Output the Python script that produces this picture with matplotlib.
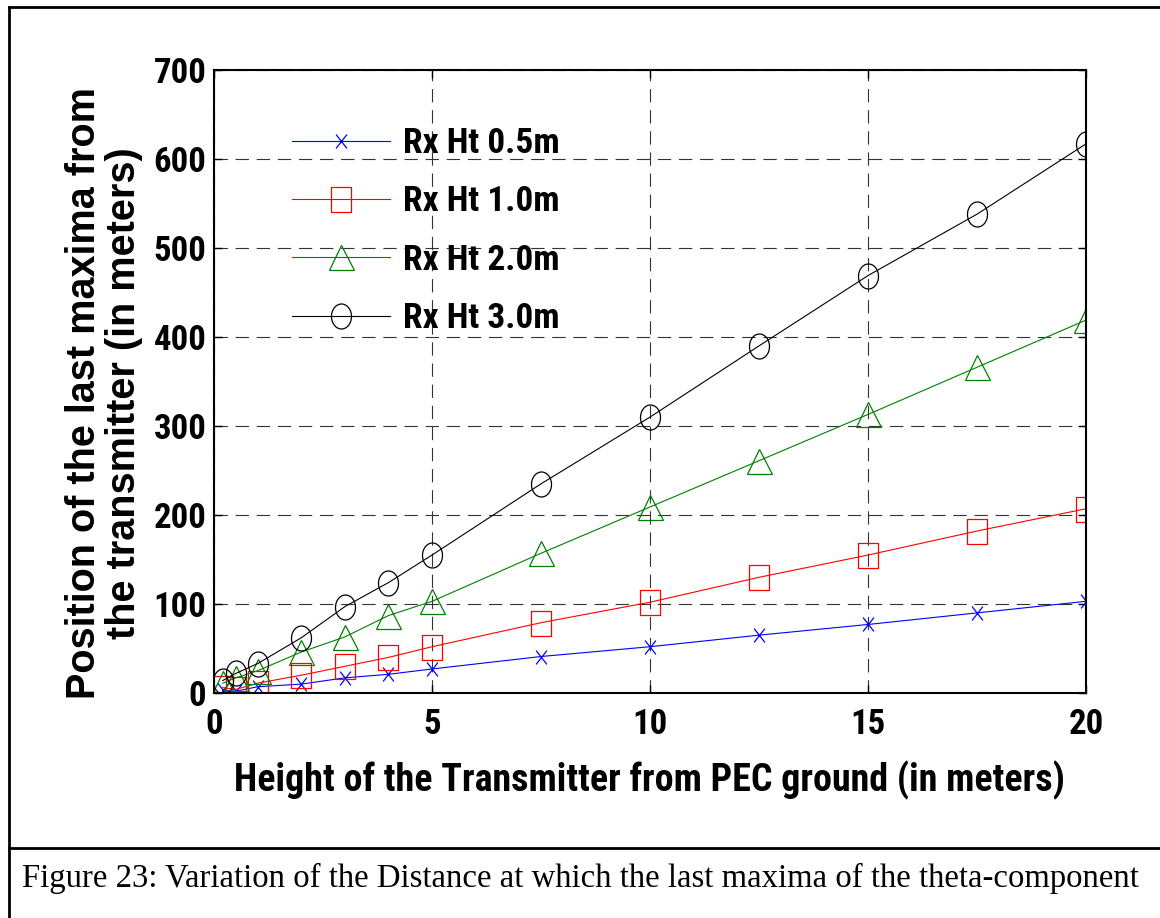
import matplotlib
matplotlib.use("Agg")
import matplotlib.pyplot as plt
from matplotlib import font_manager
from matplotlib.path import Path
from matplotlib.lines import Line2D
import numpy as np

# ---------------- data ----------------
tx_height = [0.2, 0.5, 1, 2, 3, 4, 5, 7.5, 10, 12.5, 15, 17.5, 20]
rx05 = [3, 2, 7, 10, 17, 21, 27, 41, 52, 65, 77, 90, 103]
rx10 = [6, 4, 11, 20, 30, 40, 52, 79, 102, 130, 155, 182, 207]
rx20 = [11, 17, 25, 46, 63, 87, 103, 157, 209, 261, 313, 366, 419]
rx30 = [14, 22, 33, 62, 97, 124, 155, 235, 310, 390, 469, 538, 617]
labels = ["Rx Ht 0.5m", "Rx Ht 1.0m", "Rx Ht 2.0m", "Rx Ht 3.0m"]
xticks = [0, 5, 10, 15, 20]
yticks = [0, 100, 200, 300, 400, 500, 600, 700]
xlabel = "Height of the Transmitter from PEC ground (in meters)"
ylabel = "Position of the last maxima from\nthe transmitter (in meters)"
caption = "Figure 23: Variation of the Distance at which the last maxima of the theta-component"

# ---------------- fonts ----------------
avail = {f.name for f in font_manager.fontManager.ttflist}
sans = [f for f in ["Roboto Condensed", "Liberation Sans", "DejaVu Sans"] if f in avail]
wide = [f for f in ["Liberation Sans", "DejaVu Sans"] if f in avail]
serif = [f for f in ["Liberation Serif", "DejaVu Serif"] if f in avail]

# ---------------- markers ----------------
t = np.linspace(0, 2 * np.pi, 60)
ellipse = Path(np.column_stack([0.8 * np.cos(t), np.sin(t)]), closed=True)
rect = Path([(-0.8, -1), (0.8, -1), (0.8, 1), (-0.8, 1), (-0.8, -1)], closed=True)
xmark = Path([(-0.78, -1), (0.78, 1), (-0.78, 1), (0.78, -1)],
             [Path.MOVETO, Path.LINETO, Path.MOVETO, Path.LINETO])

W, H = 1160, 918
fig = plt.figure(figsize=(W / 100, H / 100), dpi=100)
ax = fig.add_axes([214 / W, 1 - 693 / H, (1086 - 214) / W, (693 - 70) / H])

series = [
    (rx05, "#0000ff", xmark, 10),
    (rx10, "#ff0000", rect, 18),
    (rx20, "#008000", "^", 18),
    (rx30, "#000000", ellipse, 18),
]
for (vals, col, mk, ms), lab in zip(series, labels):
    ax.plot(tx_height, vals, color=col, lw=0.8, marker=mk, ms=ms,
            mfc="none", mec=col, mew=0.9, label=lab)

ax.set_xlim(0, 20)
ax.set_ylim(0, 700)
ax.set_xticks(xticks)
ax.set_yticks(yticks)
ax.grid(True, color="#333333", ls=(0, (12, 7)), lw=0.8)
ax.tick_params(direction="in", length=6, width=1, top=True, right=True,
               labelsize=25)
ax.tick_params(axis="y", pad=5.5)
ax.tick_params(axis="x", pad=11)
for lab in ax.get_xticklabels() + ax.get_yticklabels():
    lab.set_family(sans)
    lab.set_fontweight("bold")
for s in ax.spines.values():
    s.set_linewidth(1.5)

ax.set_xlabel(xlabel, fontsize=27.4, fontweight="bold", family=sans)
ax.xaxis.set_label_coords(0.5, -0.108)
ax.set_ylabel(ylabel, fontsize=28.5, fontweight="bold", family=wide, linespacing=1.08)
ax.yaxis.set_label_coords(-0.081, 0.482)

leg = ax.legend(loc="upper left", bbox_to_anchor=(292 / W, 1 - 127 / H),
                bbox_transform=fig.transFigure, frameon=False,
                prop={"family": sans, "weight": "bold", "size": 25.5},
                handlelength=2.77, handletextpad=0.37, labelspacing=0.715,
                borderpad=0, borderaxespad=0)

# ---------------- page border & caption ----------------
fig.add_artist(Line2D([9 / W, 9 / W], [0, 1 - 7 / H], transform=fig.transFigure, color="black", lw=2))
fig.add_artist(Line2D([9 / W, 1], [1 - 7 / H, 1 - 7 / H], transform=fig.transFigure, color="black", lw=2))
fig.add_artist(Line2D([9 / W, 1], [1 - 848 / H, 1 - 848 / H], transform=fig.transFigure, color="black", lw=2))
fig.text(22 / W, 1 - 878 / H, caption, family=serif, fontsize=23.6, va="center", ha="left")

fig.savefig("out.png", dpi=100)
